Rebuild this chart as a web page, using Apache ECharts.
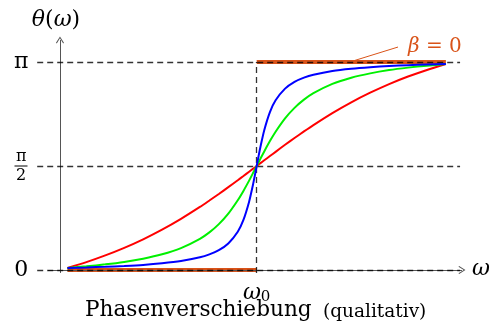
<!DOCTYPE html>
<html><head><meta charset="utf-8">
<script src="https://cdn.jsdelivr.net/npm/echarts@6/dist/echarts.min.js"></script>
<style>html,body{margin:0;padding:0;background:#fff}#c{width:496px;height:333px}</style>
</head><body><div id="c"></div>
<script>
// ---- data (omega in units of omega0, theta in rad) ----
const omega = [0,0.1,0.2,0.3,0.4,0.5,0.6,0.7,0.75,0.8,0.85,0.9,0.93,0.96,0.98,0.99,1,1.01,1.02,1.04,1.07,1.1,1.15,1.2,1.25,1.3,1.4,1.5,1.6,1.7,1.8,1.9,2];
const thetaRed = [0.031,0.119,0.220,0.334,0.463,0.609,0.772,0.952,1.049,1.148,1.251,1.356,1.420,1.485,1.528,1.549,1.571,1.592,1.614,1.657,1.721,1.785,1.891,1.993,2.093,2.189,2.370,2.533,2.678,2.808,2.922,3.022,3.111];
const thetaGreen = [0.031,0.055,0.085,0.122,0.171,0.237,0.331,0.471,0.568,0.693,0.852,1.054,1.195,1.350,1.460,1.515,1.571,1.627,1.682,1.791,1.947,2.088,2.290,2.449,2.573,2.671,2.811,2.904,2.970,3.020,3.057,3.087,3.111];
const thetaBlue = [0.031,0.039,0.048,0.061,0.077,0.101,0.135,0.191,0.236,0.300,0.401,0.578,0.756,1.031,1.281,1.423,1.571,1.718,1.861,2.111,2.385,2.563,2.740,2.842,2.906,2.950,3.007,3.041,3.064,3.081,3.094,3.103,3.111];
const stepLowOmega = [0, 1];
const stepLowTheta = [0, 0];
const stepHighOmega = [1, 2];
const stepHighTheta = [Math.PI, Math.PI];
const yTicks = [0, Math.PI / 2, Math.PI];
const yTickLabels = ['0', 'π/2', 'π'];
const xTicks = [1];
const xTickLabels = ['ω|0'];
const guideLevels = [0, Math.PI / 2, Math.PI];

// ---- build ----
const ORANGE = '#d95319';
const FONT = 'DejaVu Serif';
const zip = (xs, ys) => xs.map((x, i) => [x, ys[i]]);
const ARROW = 'path://M5,0 L10,9 L9,10 L5,2.5 L1,10 L0,9 Z';

const chart = echarts.init(document.getElementById('c'), null, {renderer: 'canvas'});

function curve(name, ys, color) {
  return {
    name, type: 'line', data: zip(omega, ys), showSymbol: false, symbol: 'none',
    smooth: 0.25, z: 10,
    lineStyle: {color, width: 2}, clip: false
  };
}

const guideLines = guideLevels.map(l => [{coord: [-0.16, l]}, {coord: [2.075, l]}]);
guideLines.push([{coord: [1, -0.045]}, {coord: [1, Math.PI]}]);

const option = {
  animation: false,
  grid: {left: 37.2, right: 31.2, top: 38.3, bottom: 56.4},
  xAxis: {
    type: 'value', min: -0.16, max: 2.1,
    axisLine: {show: false}, axisTick: {show: false}, splitLine: {show: false},
    axisLabel: {
      customValues: xTicks, margin: 4,
      formatter: v => {
        const parts = (xTickLabels[xTicks.indexOf(v)] || '').split('|');
        return '{w|' + parts[0] + '}{s|' + (parts[1] || '') + '}';
      },
      rich: {
        w: {fontFamily: FONT, fontSize: 22, fontStyle: 'italic', color: '#000', lineHeight: 24, verticalAlign: 'bottom'},
        s: {fontFamily: FONT, fontSize: 15, color: '#000', lineHeight: 13, verticalAlign: 'bottom'}
      }
    }
  },
  yAxis: {
    type: 'value', min: -0.1, max: 3.5,
    axisLine: {show: false}, axisTick: {show: false}, splitLine: {show: false},
    axisLabel: {
      customValues: yTicks, margin: 16, align: 'center',
      formatter: v => {
        let i = yTicks.findIndex(t => Math.abs(t - v) < 1e-6);
        let s = yTickLabels[i];
        if (s === 'π/2') return '{n|π}\n{d|2}';
        return '{p|' + s + '}';
      },
      rich: {
        p: {fontFamily: FONT, fontSize: 22, color: '#000'},
        n: {fontFamily: FONT, fontSize: 16, lineHeight: 19, color: '#000'},
        d: {fontFamily: FONT, fontSize: 16, lineHeight: 19, color: '#000'}
      }
    }
  },
  series: [
    {
      name: 'beta0low', type: 'line', data: zip(stepLowOmega, stepLowTheta),
      symbol: 'none', lineStyle: {color: ORANGE, width: 4}, z: 2, clip: false
    },
    {
      name: 'beta0high', type: 'line', data: zip(stepHighOmega, stepHighTheta),
      symbol: 'none', lineStyle: {color: ORANGE, width: 4}, z: 2, clip: false
    },
    {
      name: 'axes', type: 'line', data: [], z: 3,
      markLine: {
        silent: true, animation: false, z: 3,
        label: {show: false},
        symbol: ['none', ARROW], symbolSize: [8, 7],
        lineStyle: {color: '#555', width: 1, type: 'solid'},
        data: [
          [{coord: [-0.0396, -0.045]}, {coord: [-0.0396, 3.474]}],
          [{coord: [-0.103, 0]}, {coord: [2.085, 0]}]
        ]
      }
    },
    {
      name: 'guides', type: 'line', data: [], z: 4,
      markLine: {
        silent: true, animation: false, z: 4,
        label: {show: false}, symbol: ['none', 'none'],
        lineStyle: {color: 'rgba(0,0,0,0.8)', width: 1.3, type: [6, 4]},
        data: guideLines
      }
    },
    {
      name: 'leader', type: 'line', data: [], z: 4,
      markLine: {
        silent: true, animation: false, z: 4,
        label: {show: false}, symbol: ['none', 'none'],
        lineStyle: {color: ORANGE, width: 1, type: 'solid'},
        data: [[{coord: [1.509, 3.157]}, {coord: [1.747, 3.368]}]]
      }
    },
    curve('red', thetaRed, '#ff0000'),
    curve('green', thetaGreen, '#00f000'),
    curve('blue', thetaBlue, '#0000ff')
  ],
  graphic: [
    {type: 'line', shape: {x1: 14.5, y1: 166, x2: 27.5, y2: 166}, style: {stroke: '#000', lineWidth: 1}},
    {type: 'text', x: 56, y: 20, style: {
      text: '{i|θ}{r|(}{i|ω}{r|)}', align: 'center', verticalAlign: 'middle',
      rich: {i: {fontFamily: FONT, fontSize: 22, fontStyle: 'italic', fill: '#000'},
             r: {fontFamily: FONT, fontSize: 22, fill: '#000'}}}},
    {type: 'text', x: 481, y: 269, style: {
      text: 'ω', font: 'italic 22px "DejaVu Serif"', fill: '#000', align: 'center', verticalAlign: 'middle'}},
    {type: 'text', x: 408, y: 47, style: {
      text: '{i|β} = 0', align: 'left', verticalAlign: 'middle',
      rich: {i: {fontFamily: FONT, fontSize: 20, fontStyle: 'italic', fill: ORANGE}},
      fontFamily: FONT, fontSize: 20, fill: ORANGE}},
    {type: 'text', x: 85, y: 310, style: {
      text: 'Phasenverschiebung', font: '21.6px "DejaVu Serif"', fill: '#000', align: 'left', verticalAlign: 'middle'}},
    {type: 'text', x: 323, y: 312, style: {
      text: '(qualitativ)', font: '18.5px "DejaVu Serif"', fill: '#000', align: 'left', verticalAlign: 'middle'}}
  ]
};
chart.setOption(option);
</script>
</body></html>
